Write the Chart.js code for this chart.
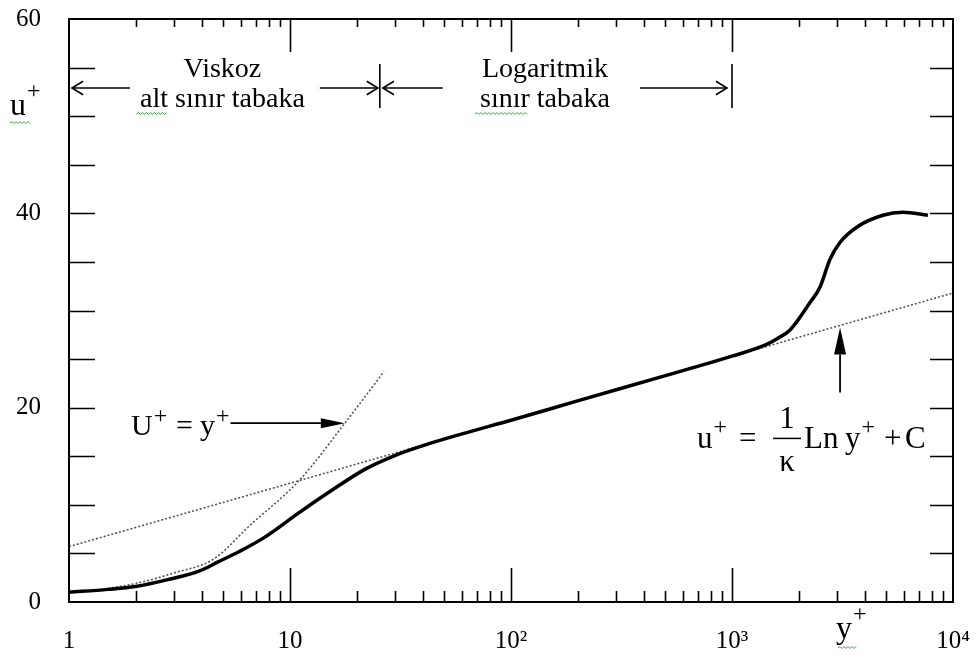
<!DOCTYPE html>
<html>
<head>
<meta charset="utf-8">
<script src="https://cdn.jsdelivr.net/npm/chart.js@4"></script>
<style>
  html, body { margin: 0; padding: 0; background: #fff; }
  #wrap { width: 977px; height: 657px; }
</style>
</head>
<body>
<div id="wrap"><canvas id="c" width="977" height="657"></canvas></div>
<script>
// Turbulent wall-layer velocity profile, u+ versus y+ (log axis)
const profileX = [1, 1.5, 2, 2.8, 3.9, 4.7, 5.9, 7.6, 11, 15.7, 22, 30, 40, 60, 100, 200, 500, 1000, 1400, 1600, 1830, 2250, 2500, 2780, 3080, 3680, 4820, 5940, 7700];
const profileU = [1.0, 1.3, 1.6, 2.3, 3.2, 4.1, 5.2, 6.6, 9.2, 11.6, 13.7, 15.1, 16.1, 17.3, 18.7, 20.7, 23.3, 25.3, 26.4, 27.1, 28.0, 30.8, 32.4, 35.3, 37.0, 38.6, 39.8, 40.1, 39.8];

// Viscous sublayer relation U+ = y+
const linearX = [1.5, 2, 3, 4.5, 6.6, 11.1, 17.7, 26.6];
const linearU = [1.4, 1.9, 3.0, 4.4, 7.9, 12.6, 18.4, 23.7];

// Log law u+ = (1/k) ln y+ + C
const logLawX = [1, 10000];
const logLawU = [5.7, 31.8];

// Axis ticks
const xTickValues = [1, 10, 100, 1000, 10000];
const xTickLabels = ['1', '10', '10²', '10³', '10⁴'];
const yTickValues = [0, 20, 40, 60];
const yTickLabels = ['0', '20', '40', '60'];
const yMinorStep = 5;

// Region limits along y+
const viscousEdge = 25.5;
const logEdge = 1000;
const regionArrowU = 52.9;

const SERIF = '"Liberation Serif", "DejaVu Serif", serif';

function pts(xs, ys) { return xs.map((x, i) => ({ x: x, y: ys[i] })); }

function arrowOpen(ctx, x0, y0, x1, y1) {
  // shaft from (x0,y0) to tip (x1,y1) with an open chevron head
  ctx.beginPath(); ctx.moveTo(x0, y0); ctx.lineTo(x1, y1); ctx.stroke();
  const a = Math.atan2(y1 - y0, x1 - x0), L = 13, w = 0.55;
  ctx.beginPath();
  ctx.moveTo(x1 - L * Math.cos(a - w), y1 - L * Math.sin(a - w));
  ctx.lineTo(x1, y1);
  ctx.lineTo(x1 - L * Math.cos(a + w), y1 - L * Math.sin(a + w));
  ctx.stroke();
}
function arrowFilled(ctx, x0, y0, x1, y1, L, hw) {
  const a = Math.atan2(y1 - y0, x1 - x0);
  const bx = x1 - L * Math.cos(a), by = y1 - L * Math.sin(a);
  ctx.beginPath(); ctx.moveTo(x0, y0); ctx.lineTo(bx, by); ctx.stroke();
  ctx.beginPath();
  ctx.moveTo(x1, y1);
  ctx.lineTo(bx + hw * Math.sin(a), by - hw * Math.cos(a));
  ctx.lineTo(bx - hw * Math.sin(a), by + hw * Math.cos(a));
  ctx.closePath(); ctx.fill();
}
function squiggle(ctx, x0, x1, y) {
  ctx.save();
  ctx.strokeStyle = '#3aa63a'; ctx.lineWidth = 1;
  ctx.beginPath();
  let up = true;
  ctx.moveTo(x0, y);
  for (let x = x0 + 2; x <= x1; x += 2) { ctx.lineTo(x, up ? y - 1.5 : y + 0.5); up = !up; }
  ctx.stroke();
  ctx.restore();
}
// text followed by a raised "+"
function withPlus(ctx, base, x, y, size, plusSize, rise) {
  ctx.font = size + 'px ' + SERIF;
  ctx.fillText(base, x, y);
  const w = ctx.measureText(base).width;
  ctx.font = plusSize + 'px ' + SERIF;
  ctx.fillText('+', x + w + 1, y - rise);
  return x + w + 1 + ctx.measureText('+').width;
}
function noEdgePadding(s) {
  s.paddingLeft = 0; s.paddingRight = 0; s.paddingTop = 0; s.paddingBottom = 0;
}

const framePlugin = {
  id: 'frame',
  afterDatasetsDraw(chart) {
    const { ctx, chartArea: ca, scales: { x, y } } = chart;
    ctx.save();
    ctx.strokeStyle = '#000'; ctx.fillStyle = '#000';
    ctx.lineWidth = 2;
    ctx.strokeRect(ca.left, ca.top, ca.right - ca.left, ca.bottom - ca.top);

    // x tick marks (inside, bottom and top)
    ctx.lineWidth = 1.6;
    for (let d = 1; d < 10000; d *= 10) {
      for (let m = 1; m <= 9; m++) {
        const v = d * m;
        if (v === 1) continue;
        const px = Math.round(x.getPixelForValue(v)) + 0.5;
        const major = (m === 1);
        ctx.beginPath();
        ctx.moveTo(px, ca.bottom); ctx.lineTo(px, ca.bottom - (major ? 34 : 11));
        ctx.moveTo(px, ca.top); ctx.lineTo(px, ca.top + (major ? 33 : 8));
        ctx.stroke();
      }
    }
    // y tick marks (inside, left and right)
    for (let v = yMinorStep; v < 60; v += yMinorStep) {
      const py = Math.round(y.getPixelForValue(v)) + 0.5;
      ctx.beginPath();
      ctx.moveTo(ca.left, py); ctx.lineTo(ca.left + 26, py);
      ctx.moveTo(ca.right, py); ctx.lineTo(ca.right - 23, py);
      ctx.stroke();
    }

    // region markers along the top
    const ay = y.getPixelForValue(regionArrowU);
    const bx1 = x.getPixelForValue(viscousEdge);
    const bx2 = x.getPixelForValue(logEdge);
    ctx.lineWidth = 1.6;
    ctx.beginPath();
    ctx.moveTo(bx1, ay - 24); ctx.lineTo(bx1, ay + 20);
    ctx.moveTo(bx2, ay - 24); ctx.lineTo(bx2, ay + 20);
    ctx.stroke();
    arrowOpen(ctx, ca.left + 61, ay, ca.left + 3, ay);
    arrowOpen(ctx, bx1 - 60, ay, bx1 - 2, ay);
    arrowOpen(ctx, bx1 + 63, ay, bx1 + 3, ay);
    arrowOpen(ctx, bx2 - 92, ay, bx2 - 5, ay);

    ctx.textAlign = 'center'; ctx.textBaseline = 'alphabetic';
    ctx.font = '28px ' + SERIF;
    const c1 = (ca.left + bx1) / 2 - 2;
    ctx.fillText('Viskoz', c1, ay - 11);
    ctx.fillText('alt sınır tabaka', c1, ay + 19);
    const c2 = (bx1 + bx2) / 2 - 11;
    ctx.fillText('Logaritmik', c2, ay - 11);
    ctx.fillText('sınır tabaka', c2, ay + 19);
    squiggle(ctx, c1 - 86, c1 - 56, ay + 26);
    squiggle(ctx, c2 - 70, c2 - 18, ay + 26);

    // U+ = y+ label with arrow to the linear relation
    ctx.textAlign = 'left';
    const tipX = x.getPixelForValue(17.7), tipY = y.getPixelForValue(18.4);
    const lb = tipY + 12;
    withPlus(ctx, 'U', 131, lb, 30, 24, 12);
    ctx.font = '30px ' + SERIF;
    ctx.fillText('=', 176, lb);
    const ue = withPlus(ctx, 'y', 200, lb, 30, 24, 12);
    ctx.lineWidth = 1.8;
    arrowFilled(ctx, ue + 1, tipY, tipX, tipY, 24, 5);

    // log-law label with arrow to the dotted line
    const lx = 3083;
    const lu = logLawU[0] + (logLawU[1] - logLawU[0]) * Math.log10(lx) / 4;
    const ltX = x.getPixelForValue(lx), ltY = y.getPixelForValue(lu);
    arrowFilled(ctx, ltX, ltY + 67, ltX, ltY + 2, 27, 6);
    const fb = ltY + 123; // formula baseline
    withPlus(ctx, 'u', 697, fb, 31, 24, 14);
    ctx.font = '31px ' + SERIF;
    ctx.fillText('=', 739, fb);
    ctx.textAlign = 'center';
    ctx.fillText('1', 787, fb - 20);
    ctx.fillText('κ', 787, fb + 23);
    ctx.lineWidth = 1.5;
    ctx.beginPath(); ctx.moveTo(773, fb - 10); ctx.lineTo(801, fb - 10); ctx.stroke();
    ctx.textAlign = 'left';
    ctx.fillText('Ln', 804, fb);
    withPlus(ctx, 'y', 845, fb, 31, 24, 14);
    ctx.font = '31px ' + SERIF;
    ctx.fillText('+', 884, fb);
    ctx.fillText('C', 905, fb);

    // axis titles
    withPlus(ctx, 'u', 10, 115, 32, 24, 17);
    squiggle(ctx, 10, 30, 123);
    withPlus(ctx, 'y', 836, 638, 32, 24, 17);
    squiggle(ctx, 838, 856, 648);

    ctx.restore();
  }
};

new Chart(document.getElementById('c'), {
  type: 'scatter',
  data: {
    datasets: [
      {
        label: 'profil',
        data: pts(profileX, profileU),
        showLine: true, borderColor: '#000', borderWidth: 3.5,
        pointRadius: 0, cubicInterpolationMode: 'monotone', order: 0
      },
      {
        label: 'U+ = y+',
        data: pts(linearX, linearU),
        showLine: true, borderColor: '#555', borderWidth: 1.6, borderDash: [2, 2],
        pointRadius: 0, cubicInterpolationMode: 'monotone', order: 1
      },
      {
        label: 'log',
        data: pts(logLawX, logLawU),
        showLine: true, borderColor: '#555', borderWidth: 1.6, borderDash: [2, 2],
        pointRadius: 0, order: 2
      }
    ]
  },
  options: {
    responsive: false,
    animation: false,
    devicePixelRatio: 1,
    layout: { padding: { top: 19, right: 24, left: 0, bottom: 0 } },
    plugins: { legend: { display: false }, tooltip: { enabled: false } },
    scales: {
      x: {
        type: 'logarithmic', min: 1, max: 10000,
        afterBuildTicks: s => { s.ticks = xTickValues.map(v => ({ value: v })); },
        afterFit: s => { s.height = 55; noEdgePadding(s); },
        grid: { display: false, drawTicks: false },
        border: { display: false },
        ticks: {
          autoSkip: false, maxRotation: 0, padding: 24,
          color: '#000', font: { family: SERIF, size: 25 },
          callback: (v, i) => xTickLabels[i]
        }
      },
      y: {
        type: 'linear', min: 0, max: 60,
        afterBuildTicks: s => { s.ticks = yTickValues.map(v => ({ value: v })); },
        afterFit: s => { s.width = 69; noEdgePadding(s); },
        grid: { display: false, drawTicks: false },
        border: { display: false },
        ticks: {
          padding: 28, color: '#000', font: { family: SERIF, size: 25 },
          callback: (v, i) => yTickLabels[i]
        }
      }
    }
  },
  plugins: [framePlugin]
});
</script>
</body>
</html>
